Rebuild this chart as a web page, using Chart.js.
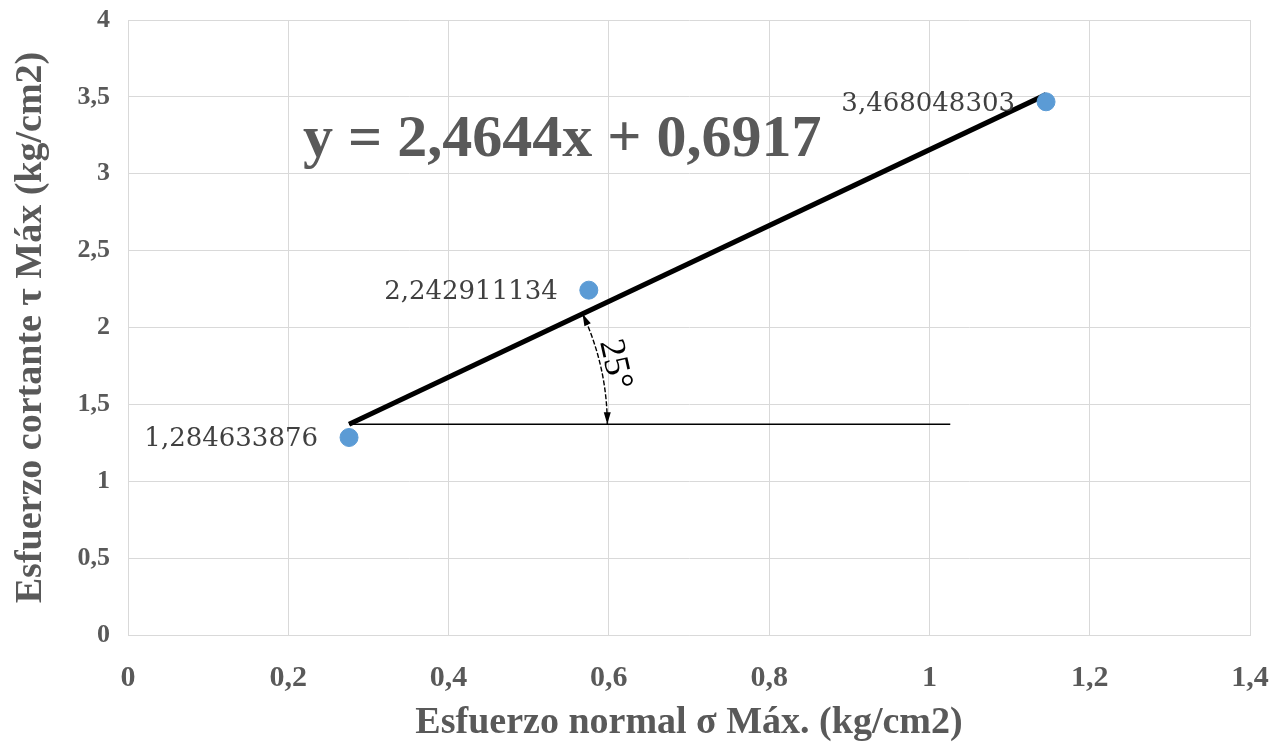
<!DOCTYPE html>
<html>
<head>
<meta charset="utf-8">
<script src="https://cdn.jsdelivr.net/npm/chart.js@4.4.0/dist/chart.umd.min.js"></script>
<style>
  html, body { margin: 0; background: #fff; }
  #wrap { width: 1274px; height: 746px; }
</style>
</head>
<body>
<div id="wrap"><canvas id="chart"></canvas></div>
<script>
// measured points: normal stress vs shear stress
const sigma = [0.2758, 0.575, 1.1455];
const tau = [1.284633876, 2.242911134, 3.468048303];

// linear fit shown on the chart
const slope = 2.4644;
const intercept = 0.6917;
const fitLabel = 'y = 2,4644x + 0,6917';

// horizontal reference and friction angle mark
const refEnd = 1.026;
const arcFoot = 0.598;
const angleLabel = '25°';

const xTickValues = [0, 0.2, 0.4, 0.6, 0.8, 1, 1.2, 1.4];
const yTickValues = [0, 0.5, 1, 1.5, 2, 2.5, 3, 3.5, 4];

const fmt = v => String(v).replace('.', ',');
const fit = x => slope * x + intercept;

const x0 = sigma[0], x1 = sigma[sigma.length - 1];
const fitLine = [{ x: x0, y: fit(x0) }, { x: x1, y: fit(x1) }];
const refLine = [{ x: x0, y: fit(x0) }, { x: refEnd, y: fit(x0) }];

const grey = '#595959';
Chart.defaults.font.family = "'Liberation Serif', 'Times New Roman', serif";

const annotate = {
  id: 'annotate',
  afterDatasetsDraw(chart) {
    const { ctx, scales: { x, y } } = chart;

    // point value labels, left of each marker
    const meta = chart.getDatasetMeta(2);
    ctx.save();
    ctx.font = "26px 'DejaVu Serif'";
    ctx.fillStyle = '#404040';
    ctx.textAlign = 'right';
    ctx.textBaseline = 'middle';
    meta.data.forEach((pt, i) => {
      ctx.fillText(fmt(tau[i]), pt.x - 31, pt.y + 2);
    });
    ctx.restore();

    // fit equation
    ctx.save();
    ctx.font = "bold 60px 'Liberation Serif'";
    ctx.fillStyle = grey;
    ctx.textAlign = 'left';
    ctx.textBaseline = 'alphabetic';
    ctx.fillText(fitLabel, 303, 156);
    ctx.restore();

    // angle arc between the fit and the horizontal
    const cx = x.getPixelForValue(x0);
    const cy = y.getPixelForValue(fit(x0));
    const r = x.getPixelForValue(arcFoot) - cx;
    const theta = Math.atan2(cy - y.getPixelForValue(fit(x1)),
                             x.getPixelForValue(x1) - cx);
    ctx.save();
    ctx.strokeStyle = '#000';
    ctx.fillStyle = '#000';
    ctx.lineWidth = 1.4;
    ctx.setLineDash([5, 2]);
    ctx.beginPath();
    ctx.arc(cx, cy, r, -theta, 0);
    ctx.stroke();
    ctx.setLineDash([]);

    const arrow = (a, dir) => {
      // tip on the arc, pointing along the tangent
      const px = cx + r * Math.cos(a), py = cy + r * Math.sin(a);
      const tx = -Math.sin(a) * dir, ty = Math.cos(a) * dir;
      const nx = -ty, ny = tx;
      const len = 12, w = 3.5;
      ctx.beginPath();
      ctx.moveTo(px, py);
      ctx.lineTo(px - tx * len + nx * w, py - ty * len + ny * w);
      ctx.lineTo(px - tx * len - nx * w, py - ty * len - ny * w);
      ctx.closePath();
      ctx.fill();
    };
    arrow(-theta, -1);
    arrow(0, 1);

    const mid = -theta / 2;
    const off = r + 14;
    ctx.translate(cx + off * Math.cos(mid), cy + off * Math.sin(mid));
    ctx.rotate(Math.PI / 2 + mid);
    ctx.font = "36px 'Liberation Serif'";
    ctx.textAlign = 'center';
    ctx.textBaseline = 'middle';
    ctx.fillText(angleLabel, 0, 0);
    ctx.restore();
  }
};

new Chart(document.getElementById('chart'), {
  type: 'scatter',
  data: {
    datasets: [
      {
        label: 'ref',
        data: refLine,
        showLine: true,
        borderColor: '#000',
        borderWidth: 1.5,
        pointRadius: 0,
        order: 3
      },
      {
        label: 'fit',
        data: fitLine,
        showLine: true,
        borderColor: '#000',
        borderWidth: 5,
        pointRadius: 0,
        order: 2
      },
      {
        label: 'tau',
        data: sigma.map((s, i) => ({ x: s, y: tau[i] })),
        backgroundColor: '#5b9bd5',
        borderColor: '#5b9bd5',
        pointRadius: 9,
        order: 1
      }
    ]
  },
  options: {
    responsive: true,
    maintainAspectRatio: false,
    animation: false,
    layout: { padding: { top: 20, right: 24, left: 0, bottom: 0 } },
    plugins: { legend: { display: false }, tooltip: { enabled: false } },
    scales: {
      x: {
        type: 'linear',
        min: 0, max: 1.4,
        afterBuildTicks: s => { s.ticks = xTickValues.map(v => ({ value: v })); },
        afterFit: s => { s.height = 111; s.paddingLeft = 0; s.paddingRight = 0; },
        grid: { color: '#d9d9d9', drawTicks: false },
        border: { color: '#d9d9d9' },
        ticks: {
          padding: 25,
          color: grey,
          font: { size: 30, weight: 'bold' },
          callback: v => fmt(v),
          maxRotation: 0
        },
        title: {
          display: true,
          text: 'Esfuerzo normal σ Máx. (kg/cm2)',
          color: grey,
          font: { size: 38, weight: 'bold' },
          padding: { top: 0, bottom: 0 }
        }
      },
      y: {
        type: 'linear',
        min: 0, max: 4,
        afterBuildTicks: s => { s.ticks = yTickValues.map(v => ({ value: v })); },
        afterFit: s => { s.width = 128; s.paddingTop = 0; s.paddingBottom = 0; },
        grid: { color: '#d9d9d9', drawTicks: false },
        border: { color: '#d9d9d9' },
        ticks: {
          padding: 18,
          color: grey,
          font: { size: 26, weight: 'bold' },
          callback: v => fmt(v)
        },
        title: {
          display: true,
          text: 'Esfuerzo cortante τ Máx (kg/cm2)',
          color: grey,
          font: { size: 38, weight: 'bold' },
          padding: { top: 8, bottom: 0 }
        }
      }
    }
  },
  plugins: [annotate]
});
</script>
</body>
</html>
